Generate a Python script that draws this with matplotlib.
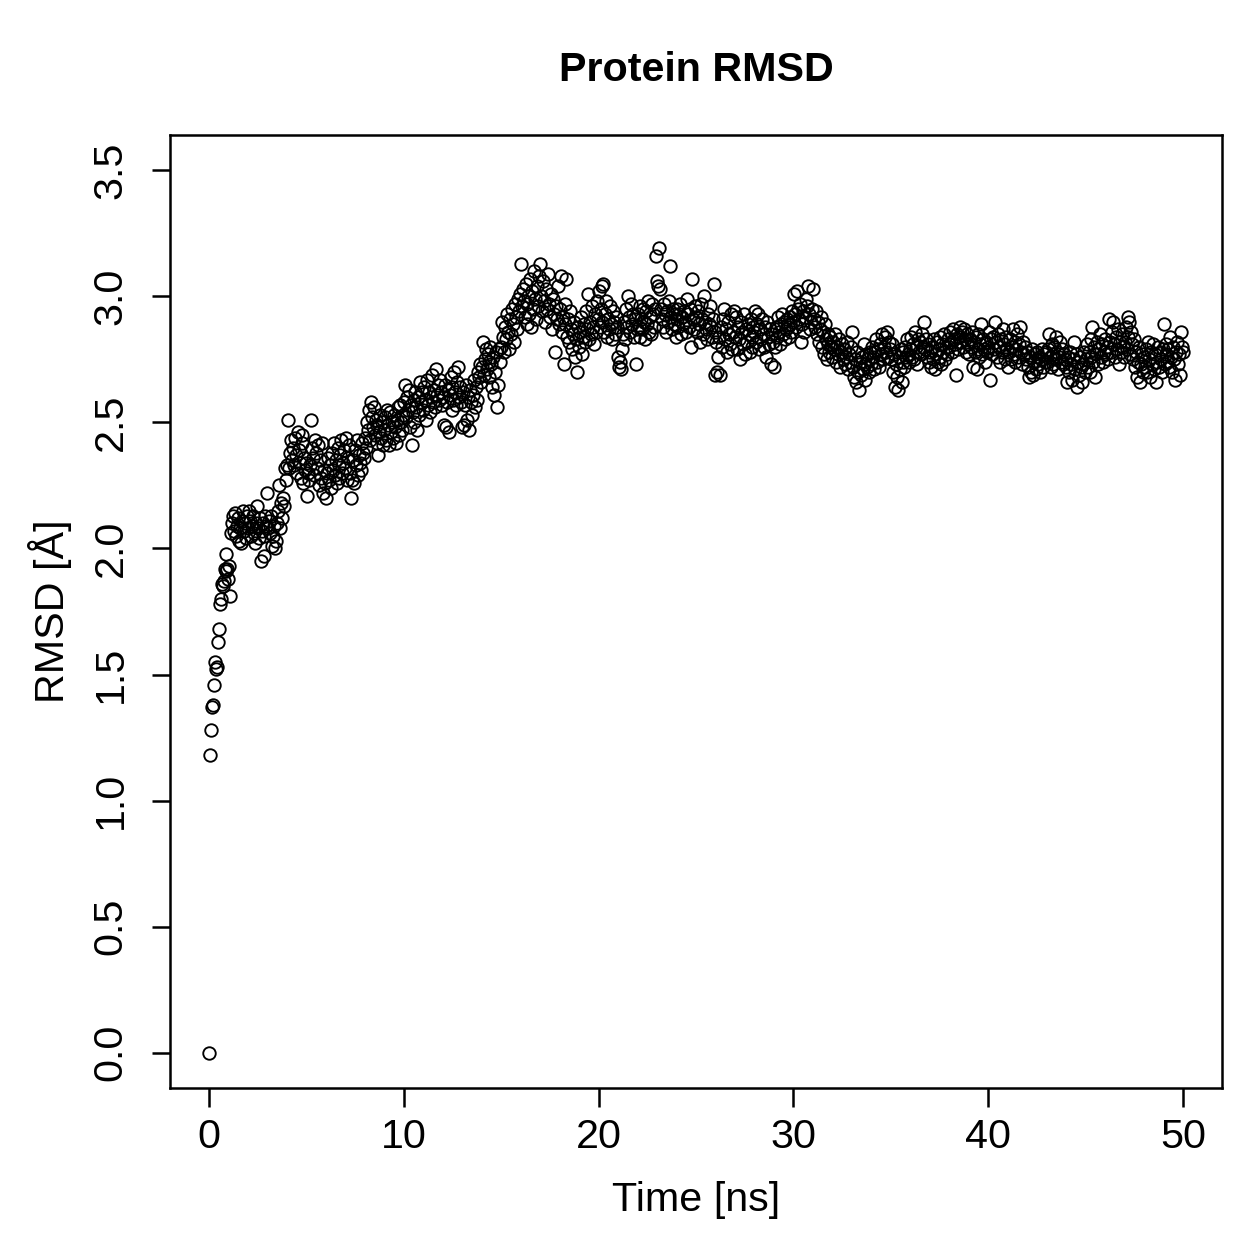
import numpy as np
import matplotlib
matplotlib.use("Agg")
from matplotlib import pyplot as plt

plt.rcParams['font.family'] = ['Liberation Sans', 'DejaVu Sans']

# RMSD sampled every 0.05 ns, one row per ns
rmsd = [
    0.00, 1.18, 1.28, 1.37, 1.38, 1.46, 1.55, 1.52, 1.53, 1.63, 1.68, 1.78, 1.80, 1.86, 1.85, 1.87, 1.92, 1.98, 1.91, 1.92,
    1.88, 1.93, 1.81, 2.06, 2.10, 2.13, 2.07, 2.14, 2.05, 2.09, 2.12, 2.03, 2.08, 2.02, 2.11, 2.15, 2.07, 2.10, 2.04, 2.13,
    2.08, 2.15, 2.11, 2.05, 2.09, 2.13, 2.06, 2.02, 2.10, 2.17, 2.08, 2.04, 2.12, 1.95, 2.07, 2.10, 1.97, 2.05, 2.13, 2.09,
    2.22, 2.08, 2.11, 2.06, 2.13, 2.01, 2.05, 2.09, 2.00, 2.03, 2.10, 2.15, 2.25, 2.08, 2.18, 2.12, 2.20, 2.17, 2.32, 2.27,
    2.33, 2.51, 2.32, 2.38, 2.43, 2.35, 2.40, 2.33, 2.44, 2.37, 2.30, 2.46, 2.39, 2.34, 2.28, 2.42, 2.45, 2.26, 2.36, 2.31,
    2.34, 2.21, 2.30, 2.27, 2.33, 2.51, 2.40, 2.36, 2.29, 2.43, 2.38, 2.32, 2.41, 2.25, 2.35, 2.28, 2.42, 2.22, 2.31, 2.26,
    2.20, 2.30, 2.36, 2.27, 2.33, 2.24, 2.38, 2.31, 2.42, 2.29, 2.35, 2.26, 2.40, 2.33, 2.28, 2.37, 2.43, 2.30, 2.34, 2.39,
    2.32, 2.44, 2.27, 2.36, 2.41, 2.30, 2.20, 2.27, 2.35, 2.26, 2.39, 2.33, 2.43, 2.29, 2.37, 2.34, 2.31, 2.42, 2.38, 2.36,
    2.44, 2.40, 2.50, 2.47, 2.55, 2.43, 2.58, 2.52, 2.48, 2.56, 2.45, 2.51, 2.42, 2.49, 2.37, 2.46, 2.53, 2.44, 2.50, 2.41,
    2.47, 2.52, 2.43, 2.55, 2.49, 2.41, 2.54, 2.46, 2.50, 2.44, 2.53, 2.48, 2.42, 2.51, 2.56, 2.45, 2.57, 2.50, 2.47, 2.53,
    2.58, 2.65, 2.52, 2.60, 2.55, 2.63, 2.48, 2.57, 2.41, 2.54, 2.59, 2.50, 2.62, 2.56, 2.47, 2.60, 2.53, 2.66, 2.58, 2.62,
    2.55, 2.64, 2.59, 2.51, 2.67, 2.57, 2.62, 2.54, 2.60, 2.69, 2.58, 2.63, 2.56, 2.71, 2.61, 2.65, 2.59, 2.67, 2.62, 2.57,
    2.60, 2.49, 2.65, 2.48, 2.58, 2.63, 2.46, 2.61, 2.68, 2.55, 2.64, 2.59, 2.70, 2.62, 2.57, 2.66, 2.72, 2.60, 2.64, 2.58,
    2.48, 2.62, 2.49, 2.57, 2.65, 2.51, 2.60, 2.47, 2.63, 2.58, 2.53, 2.61, 2.67, 2.56, 2.64, 2.59, 2.70, 2.68, 2.73, 2.66,
    2.72, 2.82, 2.69, 2.75, 2.79, 2.71, 2.77, 2.74, 2.68, 2.80, 2.73, 2.64, 2.76, 2.61, 2.70, 2.78, 2.56, 2.65, 2.79, 2.74,
    2.80, 2.90, 2.84, 2.78, 2.88, 2.83, 2.93, 2.86, 2.79, 2.91, 2.85, 2.95, 2.89, 2.82, 2.97, 2.92, 2.87, 2.99, 2.94, 3.01,
    3.13, 2.96, 3.03, 2.98, 2.92, 3.05, 2.97, 2.89, 3.00, 2.93, 3.07, 2.88, 3.02, 2.95, 3.10, 2.99, 2.91, 3.04, 2.96, 3.08,
    3.13, 3.00, 2.94, 3.06, 2.98, 2.90, 3.03, 2.95, 3.09, 2.97, 2.92, 3.01, 2.87, 2.99, 2.93, 2.78, 2.96, 2.91, 3.04, 2.89,
    2.95, 3.08, 2.86, 2.92, 2.73, 2.89, 2.97, 3.07, 2.84, 2.91, 2.82, 2.94, 2.87, 2.79, 2.85, 2.90, 2.76, 2.83, 2.70, 2.88,
    2.80, 2.86, 2.92, 2.77, 2.84, 2.89, 2.82, 2.94, 2.87, 3.01, 2.83, 2.90, 2.85, 2.96, 2.88, 2.81, 2.93, 2.86, 2.98, 2.91,
    3.02, 2.88, 2.95, 3.04, 2.90, 3.05, 2.86, 2.93, 2.98, 2.84, 2.91, 2.87, 2.96, 2.89, 2.83, 2.94, 2.90, 2.85, 2.92, 2.88,
    2.76, 2.72, 2.74, 2.71, 2.79, 2.85, 2.90, 2.83, 2.95, 2.88, 3.00, 2.92, 2.86, 2.97, 2.89, 2.93, 2.84, 2.91, 2.73, 2.87,
    2.93, 2.88, 2.96, 2.84, 2.91, 2.87, 2.95, 2.90, 2.83, 2.94, 2.89, 2.98, 2.86, 2.92, 2.85, 2.97, 2.93, 2.88, 2.95, 3.16,
    3.06, 3.04, 3.19, 3.03, 2.95, 2.91, 2.88, 2.97, 2.93, 2.86, 2.94, 2.90, 2.98, 3.12, 2.92, 2.87, 2.95, 2.89, 2.93, 2.84,
    2.91, 2.95, 2.88, 2.93, 2.97, 2.85, 2.92, 2.89, 2.94, 2.90, 2.86, 2.99, 2.93, 2.88, 2.95, 2.80, 3.07, 2.91, 2.87, 2.96,
    2.92, 2.86, 2.94, 2.89, 2.82, 2.97, 2.91, 2.85, 3.00, 2.90, 2.87, 2.83, 2.93, 2.89, 2.96, 2.88, 2.84, 2.91, 3.05, 2.86,
    2.69, 2.82, 2.70, 2.76, 2.84, 2.69, 2.88, 2.80, 2.91, 2.95, 2.83, 2.87, 2.78, 2.90, 2.85, 2.81, 2.93, 2.79, 2.86, 2.94,
    2.84, 2.92, 2.79, 2.88, 2.83, 2.75, 2.90, 2.86, 2.81, 2.93, 2.77, 2.87, 2.82, 2.89, 2.85, 2.78, 2.91, 2.84, 2.80, 2.88,
    2.86, 2.94, 2.82, 2.89, 2.93, 2.79, 2.87, 2.83, 2.91, 2.85, 2.80, 2.88, 2.76, 2.90, 2.84, 2.81, 2.87, 2.73, 2.85, 2.82,
    2.72, 2.80, 2.88, 2.84, 2.92, 2.86, 2.81, 2.89, 2.93, 2.85, 2.90, 2.83, 2.87, 2.91, 2.88, 2.84, 2.92, 2.89, 2.86, 2.94,
    2.90, 3.01, 2.93, 2.88, 3.02, 2.95, 2.91, 2.97, 2.82, 2.89, 2.94, 2.86, 2.92, 2.99, 2.96, 3.04, 2.93, 2.87, 2.90, 2.95,
    3.03, 2.91, 2.88, 2.94, 2.85, 2.90, 2.82, 2.87, 2.92, 2.80, 2.86, 2.77, 2.89, 2.83, 2.75, 2.81, 2.85, 2.78, 2.84, 2.80,
    2.76, 2.82, 2.79, 2.85, 2.74, 2.80, 2.77, 2.83, 2.72, 2.78, 2.81, 2.75, 2.79, 2.73, 2.76, 2.82, 2.71, 2.77, 2.74, 2.80,
    2.86, 2.72, 2.68, 2.75, 2.66, 2.78, 2.70, 2.63, 2.74, 2.69, 2.76, 2.71, 2.81, 2.73, 2.67, 2.77, 2.72, 2.75, 2.70, 2.78,
    2.73, 2.80, 2.76, 2.71, 2.78, 2.83, 2.74, 2.79, 2.72, 2.81, 2.77, 2.85, 2.75, 2.80, 2.84, 2.78, 2.86, 2.76, 2.82, 2.79,
    2.75, 2.81, 2.70, 2.77, 2.64, 2.73, 2.68, 2.63, 2.76, 2.71, 2.79, 2.66, 2.74, 2.78, 2.72, 2.80, 2.76, 2.83, 2.77, 2.74,
    2.79, 2.84, 2.76, 2.81, 2.75, 2.86, 2.80, 2.73, 2.83, 2.78, 2.82, 2.77, 2.85, 2.80, 2.90, 2.79, 2.83, 2.76, 2.81, 2.74,
    2.78, 2.72, 2.80, 2.75, 2.83, 2.71, 2.77, 2.82, 2.74, 2.79, 2.84, 2.76, 2.73, 2.81, 2.78, 2.85, 2.75, 2.80, 2.77, 2.83,
    2.80, 2.86, 2.82, 2.78, 2.87, 2.83, 2.81, 2.69, 2.85, 2.79, 2.84, 2.88, 2.82, 2.86, 2.80, 2.87, 2.83, 2.78, 2.85, 2.81,
    2.77, 2.83, 2.80, 2.86, 2.72, 2.82, 2.78, 2.84, 2.71, 2.79, 2.85, 2.76, 2.81, 2.89, 2.77, 2.83, 2.79, 2.74, 2.82, 2.78,
    2.80, 2.86, 2.67, 2.83, 2.77, 2.84, 2.79, 2.90, 2.82, 2.76, 2.85, 2.80, 2.74, 2.83, 2.78, 2.87, 2.81, 2.75, 2.84, 2.79,
    2.72, 2.78, 2.83, 2.75, 2.80, 2.87, 2.77, 2.82, 2.74, 2.79, 2.85, 2.76, 2.81, 2.88, 2.78, 2.73, 2.82, 2.77, 2.80, 2.75,
    2.78, 2.72, 2.68, 2.76, 2.70, 2.79, 2.69, 2.74, 2.77, 2.71, 2.78, 2.73, 2.76, 2.70, 2.75, 2.79, 2.72, 2.77, 2.74, 2.78,
    2.74, 2.79, 2.85, 2.76, 2.72, 2.81, 2.77, 2.73, 2.80, 2.75, 2.84, 2.78, 2.71, 2.76, 2.82, 2.74, 2.79, 2.73, 2.77, 2.75,
    2.72, 2.66, 2.76, 2.70, 2.78, 2.73, 2.67, 2.75, 2.82, 2.71, 2.77, 2.64, 2.74, 2.69, 2.76, 2.72, 2.66, 2.73, 2.78, 2.70,
    2.75, 2.81, 2.72, 2.78, 2.70, 2.83, 2.76, 2.88, 2.74, 2.80, 2.68, 2.77, 2.82, 2.73, 2.79, 2.85, 2.76, 2.81, 2.74, 2.78,
    2.83, 2.77, 2.80, 2.75, 2.91, 2.82, 2.78, 2.86, 2.90, 2.81, 2.76, 2.84, 2.79, 2.87, 2.73, 2.82, 2.78, 2.85, 2.80, 2.76,
    2.82, 2.88, 2.79, 2.92, 2.84, 2.90, 2.77, 2.86, 2.81, 2.75, 2.83, 2.72, 2.78, 2.68, 2.74, 2.80, 2.66, 2.73, 2.77, 2.70,
    2.76, 2.72, 2.79, 2.70, 2.82, 2.75, 2.68, 2.78, 2.73, 2.81, 2.71, 2.77, 2.66, 2.74, 2.80, 2.72, 2.78, 2.75, 2.70, 2.79,
    2.89, 2.73, 2.77, 2.81, 2.74, 2.79, 2.72, 2.84, 2.76, 2.70, 2.80, 2.75, 2.67, 2.78, 2.82, 2.73, 2.77, 2.69, 2.86, 2.80,
    2.78,
]
time_ns = np.arange(len(rmsd)) * 0.05

xticks = [0, 10, 20, 30, 40, 50]
yticks = [0.0, 0.5, 1.0, 1.5, 2.0, 2.5, 3.0, 3.5]

W = 1259
fs = 16.5
fig = plt.figure(figsize=(W / 180, W / 180), dpi=180)
ax = fig.add_axes([170 / W, 1 - 1088 / W, (1222 - 170) / W, (1088 - 135) / W])

ax.plot(time_ns, rmsd, linestyle='none', marker='o', markersize=5.0,
        markerfacecolor='none', markeredgecolor='black', markeredgewidth=0.75)

ax.set_xlim(-2, 52)
ax.set_ylim(-0.14, 3.64)
ax.set_xticks(xticks)
ax.set_xticklabels([str(t) for t in xticks])
ax.set_yticks(yticks)
ax.set_yticklabels([f'{t:.1f}' for t in yticks], rotation=90, va='center')
ax.tick_params(direction='out', length=7.4, width=1.0, labelsize=fs)
ax.tick_params(axis='x', pad=4.6)
ax.tick_params(axis='y', pad=8.8)
for sp in ax.spines.values():
    sp.set_linewidth(1.0)

fig.text(696 / W, 1 - 70 / W, 'Protein RMSD', ha='center', va='center',
         fontsize=fs, fontweight='bold')
fig.text(696 / W, 1 - 1200 / W, 'Time [ns]', ha='center', va='center', fontsize=fs)
fig.text(50 / W, 1 - 611 / W, 'RMSD [Å]', ha='center', va='center', fontsize=fs,
         rotation=90)

fig.savefig('out.png', dpi=180)
